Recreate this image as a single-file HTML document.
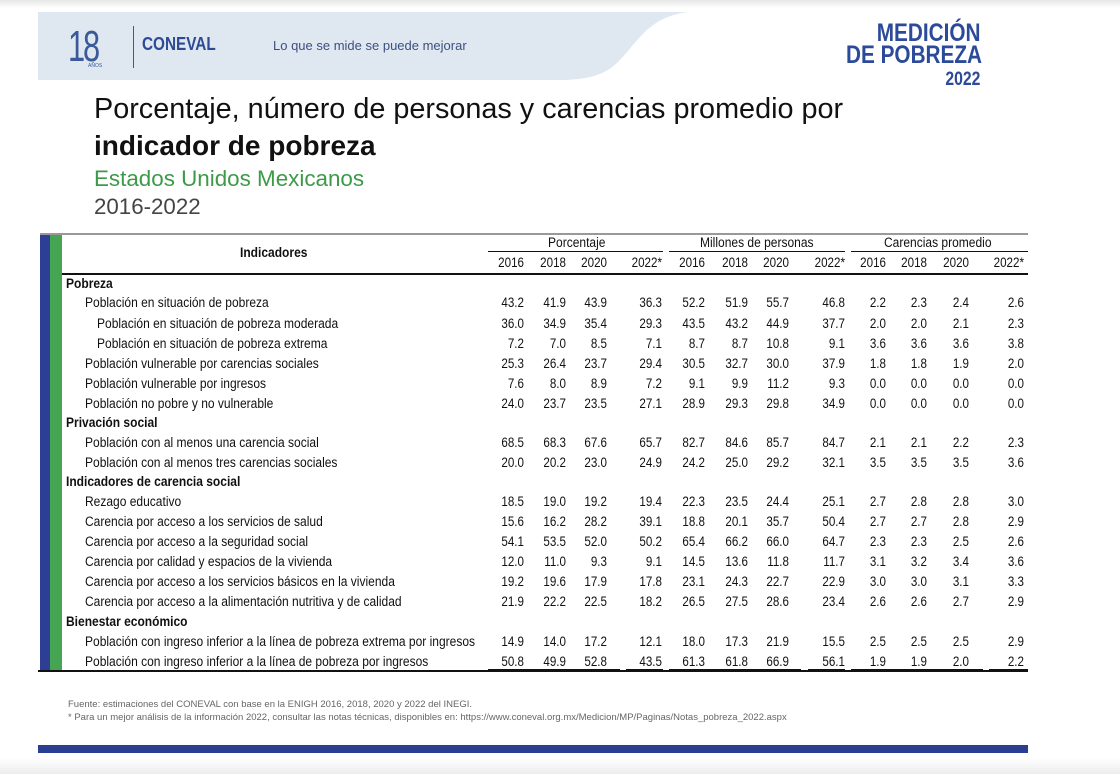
<!DOCTYPE html>
<html><head><meta charset="utf-8"><style>
*{margin:0;padding:0;box-sizing:border-box}
body{width:1120px;height:774px;background:#fff;position:relative;overflow:hidden;font-family:"Liberation Sans",sans-serif;color:#111}
.ab{position:absolute;white-space:nowrap}
.r{position:absolute;left:0;width:1120px;height:20px;font-size:13.5px;line-height:20px}
.r .l{position:absolute;left:85px;transform:scaleX(.89);transform-origin:left center;white-space:nowrap}
.r .l.s{left:97px}
.r .l.h{left:66px;font-weight:bold}
.r i{position:absolute;font-style:normal;width:40px;text-align:right;transform:scaleX(.86);transform-origin:right center}
.r i:nth-of-type(1){left:484px}.r i:nth-of-type(2){left:526px}.r i:nth-of-type(3){left:567px}.r i:nth-of-type(4){left:622px}
.r i:nth-of-type(5){left:665px}.r i:nth-of-type(6){left:708px}.r i:nth-of-type(7){left:749px}.r i:nth-of-type(8){left:805px}
.r i:nth-of-type(9){left:846px}.r i:nth-of-type(10){left:887px}.r i:nth-of-type(11){left:929px}.r i:nth-of-type(12){left:984px}
.ln{position:absolute;background:#111}
</style></head><body>
<div class="ab" style="left:0;top:0;width:1120px;height:8px;background:linear-gradient(#e6e6e6,#fff)"></div>
<svg class="ab" style="left:38px;top:12px" width="660" height="70"><path d="M0 0H650C610 5 600 30 580 50C565 65 545 68 520 68H0Z" fill="#dfe7f1"/></svg>
<div class="ab" style="left:68px;top:22px;font-size:44px;color:#3a5a9a;font-weight:100;letter-spacing:-3px;transform:scaleX(.7);transform-origin:left">18</div>
<div class="ab" style="left:88px;top:63px;font-size:5px;color:#3a5a9a">AÑOS</div>
<div class="ab" style="left:133px;top:26px;width:1px;height:42px;background:#3a5a9a"></div>
<div class="ab" style="left:142px;top:34px;font-size:18px;font-weight:bold;color:#2d4a94;transform:scaleX(.85);transform-origin:left">CONEVAL</div>
<div class="ab" style="left:273px;top:38px;font-size:13px;color:#3c5080">Lo que se mide se puede mejorar</div>
<div class="ab" style="left:846px;top:22px;font-size:25px;font-weight:bold;color:#2c4a9a;line-height:22px;text-align:right;width:162px;transform:scaleX(.83);transform-origin:left">MEDICIÓN<br>DE POBREZA<br><span style="font-size:19px;line-height:14px">2022</span></div>
<div class="ab" style="left:94px;top:93px;font-size:28.8px;color:#111">Porcentaje, número de personas y carencias promedio por</div>
<div class="ab" style="left:94px;top:130px;font-size:28px;font-weight:bold;color:#111">indicador de pobreza</div>
<div class="ab" style="left:94px;top:166px;font-size:22.4px;color:#3d9a48">Estados Unidos Mexicanos</div>
<div class="ab" style="left:94px;top:194px;font-size:22.3px;color:#444">2016-2022</div>
<div class="ab" style="left:40px;top:233px;width:10px;height:438px;background:#2c3f94"></div>
<div class="ab" style="left:50px;top:233px;width:12px;height:438px;background:#45a552"></div>
<div class="ln" style="left:40px;top:233px;width:988px;height:2px;background:#999"></div>
<div class="r" style="top:243px"><span class="l" style="left:240px;font-weight:bold">Indicadores</span></div>
<div class="r" style="top:233px"><span class="l" style="left:548px">Porcentaje</span><span class="l" style="left:700px">Millones de personas</span><span class="l" style="left:884px">Carencias promedio</span></div>
<div class="ln" style="left:488px;top:251px;width:175px;height:1px"></div>
<div class="ln" style="left:669px;top:251px;width:176px;height:1px"></div>
<div class="ln" style="left:851px;top:251px;width:177px;height:1px"></div>
<div class="r" style="top:253px"><i>2016</i><i>2018</i><i>2020</i><i>2022*</i><i>2016</i><i>2018</i><i>2020</i><i>2022*</i><i>2016</i><i>2018</i><i>2020</i><i>2022*</i></div>
<div class="ln" style="left:62px;top:273px;width:966px;height:2px"></div>
<div class="r" style="top:274px"><span class="l h">Pobreza</span></div>
<div class="r" style="top:293px"><span class="l">Población en situación de pobreza</span><i>43.2</i><i>41.9</i><i>43.9</i><i>36.3</i><i>52.2</i><i>51.9</i><i>55.7</i><i>46.8</i><i>2.2</i><i>2.3</i><i>2.4</i><i>2.6</i></div>
<div class="r" style="top:314px"><span class="l s">Población en situación de pobreza moderada</span><i>36.0</i><i>34.9</i><i>35.4</i><i>29.3</i><i>43.5</i><i>43.2</i><i>44.9</i><i>37.7</i><i>2.0</i><i>2.0</i><i>2.1</i><i>2.3</i></div>
<div class="r" style="top:334px"><span class="l s">Población en situación de pobreza extrema</span><i>7.2</i><i>7.0</i><i>8.5</i><i>7.1</i><i>8.7</i><i>8.7</i><i>10.8</i><i>9.1</i><i>3.6</i><i>3.6</i><i>3.6</i><i>3.8</i></div>
<div class="r" style="top:354px"><span class="l">Población vulnerable por carencias sociales</span><i>25.3</i><i>26.4</i><i>23.7</i><i>29.4</i><i>30.5</i><i>32.7</i><i>30.0</i><i>37.9</i><i>1.8</i><i>1.8</i><i>1.9</i><i>2.0</i></div>
<div class="r" style="top:374px"><span class="l">Población vulnerable por ingresos</span><i>7.6</i><i>8.0</i><i>8.9</i><i>7.2</i><i>9.1</i><i>9.9</i><i>11.2</i><i>9.3</i><i>0.0</i><i>0.0</i><i>0.0</i><i>0.0</i></div>
<div class="r" style="top:394px"><span class="l">Población no pobre y no vulnerable</span><i>24.0</i><i>23.7</i><i>23.5</i><i>27.1</i><i>28.9</i><i>29.3</i><i>29.8</i><i>34.9</i><i>0.0</i><i>0.0</i><i>0.0</i><i>0.0</i></div>
<div class="r" style="top:413px"><span class="l h">Privación social</span></div>
<div class="r" style="top:433px"><span class="l">Población con al menos una carencia social</span><i>68.5</i><i>68.3</i><i>67.6</i><i>65.7</i><i>82.7</i><i>84.6</i><i>85.7</i><i>84.7</i><i>2.1</i><i>2.1</i><i>2.2</i><i>2.3</i></div>
<div class="r" style="top:453px"><span class="l">Población con al menos tres carencias sociales</span><i>20.0</i><i>20.2</i><i>23.0</i><i>24.9</i><i>24.2</i><i>25.0</i><i>29.2</i><i>32.1</i><i>3.5</i><i>3.5</i><i>3.5</i><i>3.6</i></div>
<div class="r" style="top:472px"><span class="l h">Indicadores de carencia social</span></div>
<div class="r" style="top:492px"><span class="l">Rezago educativo</span><i>18.5</i><i>19.0</i><i>19.2</i><i>19.4</i><i>22.3</i><i>23.5</i><i>24.4</i><i>25.1</i><i>2.7</i><i>2.8</i><i>2.8</i><i>3.0</i></div>
<div class="r" style="top:512px"><span class="l">Carencia por acceso a los servicios de salud</span><i>15.6</i><i>16.2</i><i>28.2</i><i>39.1</i><i>18.8</i><i>20.1</i><i>35.7</i><i>50.4</i><i>2.7</i><i>2.7</i><i>2.8</i><i>2.9</i></div>
<div class="r" style="top:532px"><span class="l">Carencia por acceso a la seguridad social</span><i>54.1</i><i>53.5</i><i>52.0</i><i>50.2</i><i>65.4</i><i>66.2</i><i>66.0</i><i>64.7</i><i>2.3</i><i>2.3</i><i>2.5</i><i>2.6</i></div>
<div class="r" style="top:552px"><span class="l">Carencia por calidad y espacios de la vivienda</span><i>12.0</i><i>11.0</i><i>9.3</i><i>9.1</i><i>14.5</i><i>13.6</i><i>11.8</i><i>11.7</i><i>3.1</i><i>3.2</i><i>3.4</i><i>3.6</i></div>
<div class="r" style="top:572px"><span class="l">Carencia por acceso a los servicios básicos en la vivienda</span><i>19.2</i><i>19.6</i><i>17.9</i><i>17.8</i><i>23.1</i><i>24.3</i><i>22.7</i><i>22.9</i><i>3.0</i><i>3.0</i><i>3.1</i><i>3.3</i></div>
<div class="r" style="top:592px"><span class="l">Carencia por acceso a la alimentación nutritiva y de calidad</span><i>21.9</i><i>22.2</i><i>22.5</i><i>18.2</i><i>26.5</i><i>27.5</i><i>28.6</i><i>23.4</i><i>2.6</i><i>2.6</i><i>2.7</i><i>2.9</i></div>
<div class="r" style="top:612px"><span class="l h">Bienestar económico</span></div>
<div class="r" style="top:632px"><span class="l">Población con ingreso inferior a la línea de pobreza extrema por ingresos</span><i>14.9</i><i>14.0</i><i>17.2</i><i>12.1</i><i>18.0</i><i>17.3</i><i>21.9</i><i>15.5</i><i>2.5</i><i>2.5</i><i>2.5</i><i>2.9</i></div>
<div class="r" style="top:652px"><span class="l">Población con ingreso inferior a la línea de pobreza por ingresos</span><i>50.8</i><i>49.9</i><i>52.8</i><i>43.5</i><i>61.3</i><i>61.8</i><i>66.9</i><i>56.1</i><i>1.9</i><i>1.9</i><i>2.0</i><i>2.2</i></div>
<div class="ln" style="left:488px;top:669px;width:132px;height:1px"></div><div class="ln" style="left:626px;top:669px;width:37px;height:1px"></div>
<div class="ln" style="left:669px;top:669px;width:132px;height:1px"></div><div class="ln" style="left:808px;top:669px;width:37px;height:1px"></div>
<div class="ln" style="left:851px;top:669px;width:132px;height:1px"></div><div class="ln" style="left:989px;top:669px;width:39px;height:1px"></div>
<div class="ln" style="left:38px;top:670px;width:990px;height:2px"></div>
<div class="ab" style="left:68px;top:699px;font-size:9.5px;color:#666">Fuente: estimaciones del CONEVAL con base en la ENIGH 2016, 2018, 2020 y 2022 del INEGI.</div>
<div class="ab" style="left:68px;top:712px;font-size:9.5px;color:#666">* Para un mejor análisis de la información 2022, consultar las notas técnicas, disponibles en: https://www.coneval.org.mx/Medicion/MP/Paginas/Notas_pobreza_2022.aspx</div>
<div class="ab" style="left:38px;top:745px;width:990px;height:8px;background:#2a3f92"></div>
<div class="ab" style="left:0;top:758px;width:1120px;height:16px;background:linear-gradient(#fff,#ececec)"></div>
</body></html>
